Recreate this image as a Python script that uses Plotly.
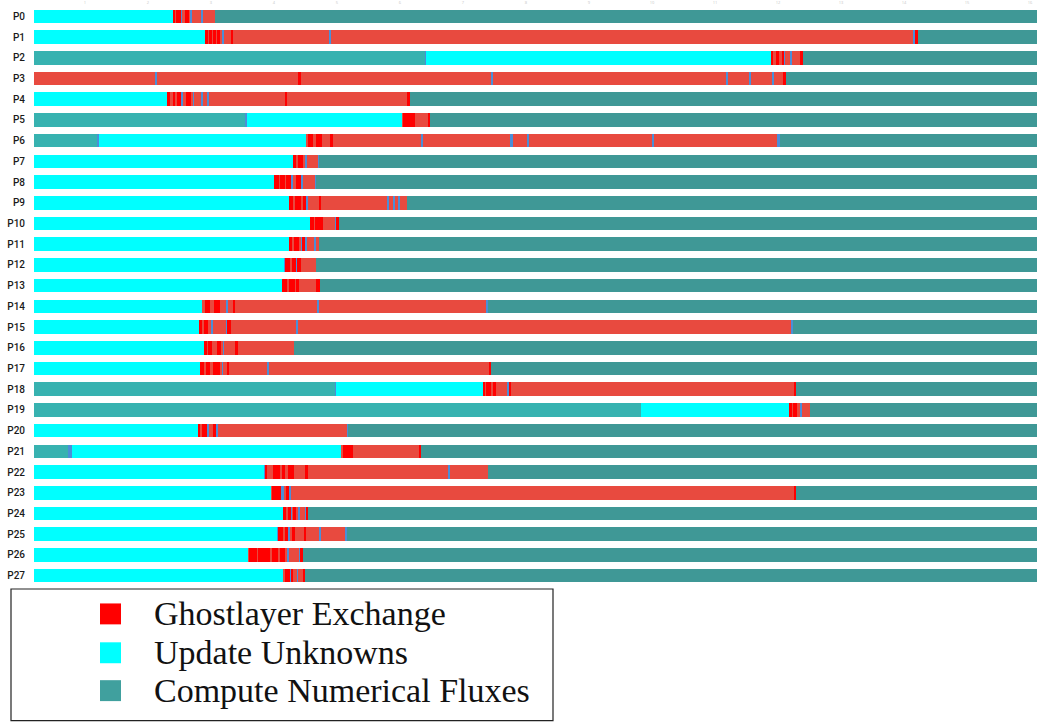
import plotly.graph_objects as go

# ---------------- data (time units) ----------------
ROWS = ["P0", "P1", "P2", "P3", "P4", "P5", "P6", "P7", "P8", "P9", "P10", "P11", "P12", "P13",
        "P14", "P15", "P16", "P17", "P18", "P19", "P20", "P21", "P22", "P23", "P24", "P25", "P26", "P27"]
T_START = 34
T_END = 1037

# each row: sequence of (state, end time); a segment starts where the previous one ended
# C = Update Unknowns, T = Compute Numerical Fluxes, G = Ghostlayer Exchange,
# L = fluxes (initial), R = waiting, B = marker
P0 = [("C",173),("G",175),("R",176),("G",181),("B",182),("R",185),("G",189),("R",190),("B",192),("R",201),("B",203),("R",215),("T",1037)]
P1 = [("C",205),("G",208),("R",209),("G",212),("R",213),("G",216),("R",217),("G",220),("R",222),("B",224),("R",231),("G",233),("R",329),("B",331),("R",913),("B",915),("G",918),("T",1037)]
P2 = [("L",425),("B",426),("C",771),("G",773),("R",776),("G",779),("R",782),("G",784),("B",785),("R",790),("B",792),("R",800),("G",803),("T",1037)]
P3 = [("R",155),("B",157),("R",298),("G",301),("R",491),("B",493),("R",726),("B",728),("R",749),("B",751),("R",772),("B",774),("R",783),("G",786),("T",1037)]
P4 = [("C",167),("G",170),("R",173),("G",175),("R",177),("G",181),("B",183),("R",186),("G",191),("R",193),("B",194),("R",201),("B",203),("R",207),("B",209),("R",285),("G",287),("R",407),("G",410),("T",1037)]
P5 = [("L",245),("B",247),("C",402),("R",403),("G",415),("R",428),("G",430),("T",1037)]
P6 = [("L",97),("B",99),("C",306),("R",308),("G",313),("R",316),("G",322),("R",330),("G",333),("R",421),("B",423),("R",510),("B",513),("R",527),("B",529),("R",652),("B",654),("R",777),("B",780),("T",1037)]
P7 = [("C",293),("G",296),("R",298),("G",303),("R",305),("B",307),("R",318),("B",319),("T",1037)]
P8 = [("C",274),("G",279),("R",280),("G",285),("R",286),("G",291),("B",293),("R",296),("G",301),("B",303),("R",315),("B",316),("T",1037)]
P9 = [("C",289),("G",293),("R",295),("G",301),("R",303),("G",306),("B",308),("R",319),("G",321),("R",387),("B",389),("R",393),("B",395),("R",398),("B",400),("R",407),("T",1037)]
P10 = [("C",310),("G",314),("R",315),("G",323),("R",335),("B",336),("G",339),("T",1037)]
P11 = [("C",289),("G",292),("R",294),("G",299),("R",301),("B",302),("G",305),("B",307),("R",314),("B",316),("R",319),("T",1037)]
P12 = [("C",284),("B",285),("G",290),("R",292),("G",296),("B",297),("G",301),("R",316),("T",1037)]
P13 = [("C",282),("G",287),("R",289),("G",295),("R",296),("G",299),("R",316),("G",320),("T",1037)]
P14 = [("C",202),("R",205),("G",210),("R",214),("G",220),("R",226),("B",228),("R",233),("G",235),("R",317),("B",319),("R",486),("B",488),("T",1037)]
P15 = [("C",199),("G",202),("R",204),("G",208),("R",211),("B",213),("R",226),("B",227),("G",231),("R",296),("B",298),("R",791),("B",793),("T",1037)]
P16 = [("C",204),("G",207),("R",208),("G",212),("R",217),("G",221),("R",223),("B",224),("R",235),("G",238),("R",294),("T",1037)]
P17 = [("C",200),("G",204),("R",206),("G",210),("R",213),("G",220),("R",222),("B",223),("R",227),("G",229),("R",267),("B",269),("R",489),("G",491),("T",1037)]
P18 = [("L",335),("B",336),("C",483),("G",485),("R",486),("G",491),("R",493),("G",496),("R",507),("B",509),("G",511),("R",794),("G",796),("T",1037)]
P19 = [("L",641),("C",789),("G",792),("R",793),("G",797),("R",800),("B",802),("R",810),("T",1037)]
P20 = [("C",198),("G",200),("R",202),("G",207),("B",209),("R",213),("G",216),("B",218),("R",347),("B",348),("T",1037)]
P21 = [("L",68),("B",72),("C",341),("R",343),("G",353),("R",419),("G",421),("T",1037)]
P22 = [("C",264),("B",265),("G",267),("R",273),("G",280),("R",282),("G",285),("R",288),("G",294),("R",305),("G",308),("R",448),("B",450),("R",488),("T",1037)]
P23 = [("C",271),("R",272),("G",281),("B",284),("R",286),("G",289),("B",291),("R",794),("G",796),("T",1037)]
P24 = [("C",283),("G",286),("R",288),("G",291),("B",292),("R",293),("G",296),("R",298),("B",300),("R",305),("B",306),("G",308),("T",1037)]
P25 = [("C",277),("B",278),("G",283),("R",285),("G",288),("B",290),("R",292),("G",295),("R",304),("G",306),("R",319),("B",321),("R",345),("B",347),("T",1037)]
P26 = [("C",248),("R",249),("G",257),("R",258),("G",270),("R",272),("G",278),("R",280),("G",285),("R",287),("B",289),("R",299),("B",300),("G",303),("T",1037)]
P27 = [("C",283),("R",285),("G",290),("B",291),("G",293),("R",297),("B",298),("R",303),("G",305),("T",1037)]

ROW_SEGMENTS = [P0, P1, P2, P3, P4, P5, P6, P7, P8, P9, P10, P11, P12, P13,
                P14, P15, P16, P17, P18, P19, P20, P21, P22, P23, P24, P25, P26, P27]

TICK_VALUES = [85, 148, 211, 274, 337, 400, 463, 526, 589, 652, 715, 778, 841, 904, 967, 1030]
TICK_LABELS = ["1", "2", "3", "4", "5", "6", "7", "8", "9", "10", "11", "12", "13", "14", "15", "16"]

LEGEND_NAMES = ["Ghostlayer Exchange", "Update Unknowns", "Compute Numerical Fluxes"]

# ---------------- styles ----------------
STATE_COLORS = {
    "T": "#3F9896",
    "L": "#37B2B0",
    "C": "#00FFFF",
    "R": "#E84A3F",
    "G": "#FF0000",
    "B": "#4A8FD8",
}
LEGEND_COLORS = ["#FF0000", "#00FFFF", "#40A09E"]

# ---------------- build traces ----------------
fig = go.Figure()
for state in ["T", "L", "C", "R", "G", "B"]:
    ys, bases, widths = [], [], []
    for row, segs in zip(ROWS, ROW_SEGMENTS):
        start = T_START
        for s, end in segs:
            if s == state:
                ys.append(row)
                bases.append(start)
                widths.append(end - start)
            start = end
    fig.add_trace(go.Bar(
        orientation="h", y=ys, x=widths, base=bases,
        marker=dict(color=STATE_COLORS[state], line=dict(width=0)),
        width=0.66, showlegend=False, hoverinfo="skip",
    ))

W, H = 1037, 724
ML, MR, MT, MB = 34, 0, 4, 138
PW, PH = W - ML - MR, H - MT - MB


def px(x):
    return (x - ML) / PW


def py(y):
    return (H - MB - y) / PH


shapes = [dict(type="rect", xref="paper", yref="paper",
               x0=px(11), x1=px(553), y0=py(721), y1=py(589),
               line=dict(color="#222222", width=1.2), fillcolor="rgba(0,0,0,0)")]
annotations = []
item_y = [614, 653, 691]
for name, col, yc in zip(LEGEND_NAMES, LEGEND_COLORS, item_y):
    shapes.append(dict(type="rect", xref="paper", yref="paper",
                       x0=px(100), x1=px(121), y0=py(yc + 10.5), y1=py(yc - 10.5),
                       line=dict(width=0), fillcolor=col))
    annotations.append(dict(xref="paper", yref="paper", x=px(152), y=py(yc),
                            xanchor="left", yanchor="middle", showarrow=False,
                            text=name, font=dict(family="Liberation Serif", size=34, color="#111111")))

fig.update_layout(
    width=W, height=H,
    margin=dict(l=ML, r=MR, t=MT, b=MB, pad=0),
    paper_bgcolor="white", plot_bgcolor="white",
    barmode="overlay", bargap=0,
    showlegend=False,
    shapes=shapes, annotations=annotations,
    xaxis=dict(range=[T_START, T_END], side="top", showgrid=False, zeroline=False,
               showline=False, ticks="", tickvals=TICK_VALUES, ticktext=TICK_LABELS,
               tickfont=dict(size=4, color="#c8c8c8")),
    yaxis=dict(type="category", categoryorder="array", categoryarray=ROWS,
               range=[27.5, -0.5], showgrid=False, zeroline=False, showline=False,
               ticks="", ticklabelstandoff=8,
               tickfont=dict(family="Roboto", size=10, color="#1a1a1a", weight=500)),
)

fig.write_html("out.html", config={"displayModeBar": False},
               post_script="document.body.style.margin='0';document.body.style.padding='0';document.body.style.overflow='hidden';")
